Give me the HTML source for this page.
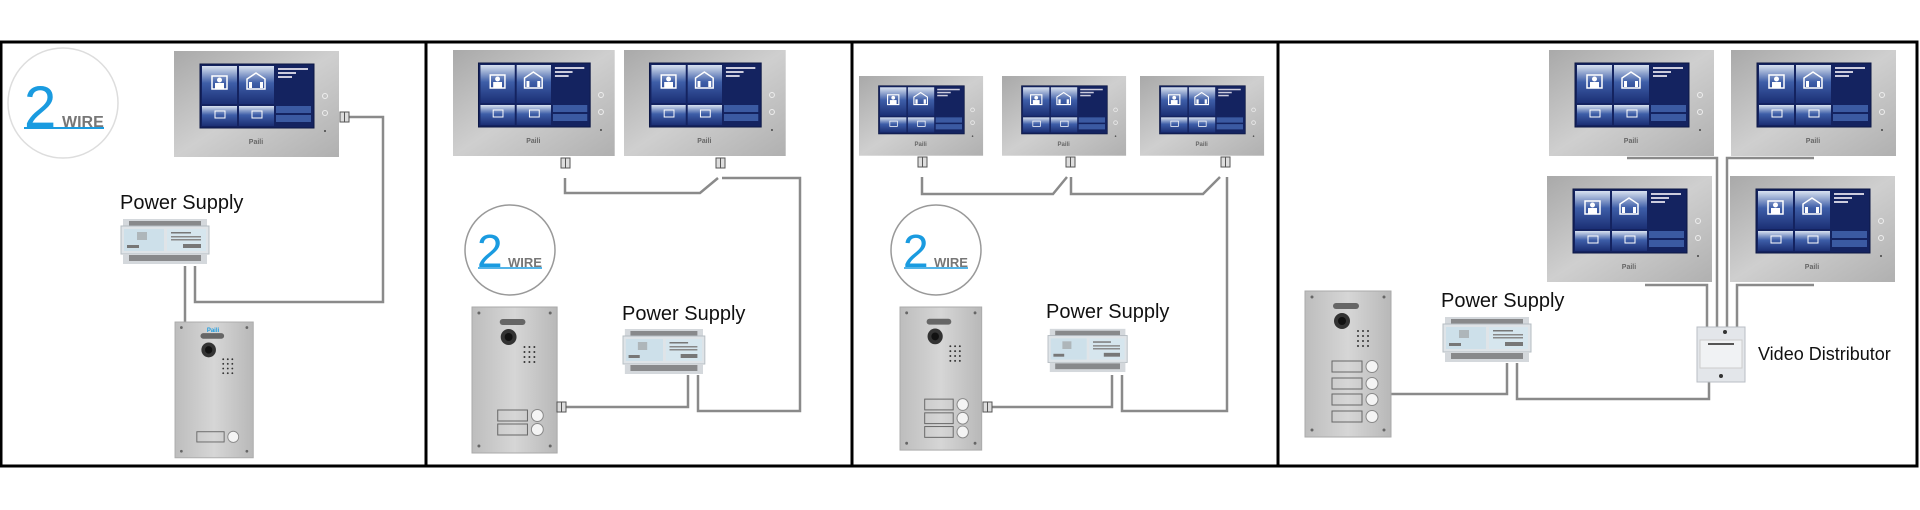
<!DOCTYPE html>
<html><head><meta charset="utf-8"><style>
html,body{margin:0;padding:0;background:#fff;}
svg{display:block;}
text{font-family:"Liberation Sans",sans-serif;}
</style></head><body>
<svg width="1920" height="510" viewBox="0 0 1920 510" xmlns="http://www.w3.org/2000/svg">
<defs>
<linearGradient id="metal" x1="0" y1="0" x2="1" y2="1">
<stop offset="0" stop-color="#a9a9a9"/><stop offset="0.5" stop-color="#cfcfcf"/><stop offset="1" stop-color="#b0b0b0"/></linearGradient>
<linearGradient id="tile" x1="0" y1="0" x2="0" y2="1">
<stop offset="0" stop-color="#d9e2f0"/><stop offset="0.45" stop-color="#3e5ea8"/><stop offset="1" stop-color="#1b2f74"/></linearGradient>
<linearGradient id="plate" x1="0" y1="0" x2="1" y2="0">
<stop offset="0" stop-color="#bdbdbd"/><stop offset="0.5" stop-color="#d6d6d6"/><stop offset="1" stop-color="#b8b8b8"/></linearGradient>
<g id="mon">
<rect x="0" y="0" width="165" height="106" fill="url(#metal)"/>
<rect x="26" y="13" width="114" height="64" fill="#142360" stroke="#0c1744"/>
<rect x="28" y="15" width="35" height="38" fill="url(#tile)"/>
<rect x="65" y="15" width="35" height="38" fill="url(#tile)"/>
<rect x="28" y="55" width="35" height="20" fill="url(#tile)"/>
<rect x="65" y="55" width="35" height="20" fill="url(#tile)"/>
<rect x="102" y="55" width="35" height="7" fill="#3b5aa2"/>
<rect x="102" y="64" width="35" height="7" fill="#3b5aa2"/>
<rect x="38" y="25" width="15" height="13" fill="none" stroke="#fff" stroke-width="1.5"/>
<circle cx="45.5" cy="29" r="2.5" fill="#fff"/><rect x="41" y="32" width="9" height="6" fill="#fff"/>
<path d="M73 38 V28 L82 22 L91 28 V38 Z" fill="none" stroke="#fff" stroke-width="1.5"/>
<rect x="75" y="31" width="3" height="6" fill="#fff"/><rect x="86" y="31" width="3" height="6" fill="#fff"/>
<rect x="41" y="60" width="10" height="7" fill="none" stroke="#fff"/>
<rect x="78" y="60" width="10" height="7" fill="none" stroke="#fff"/>
<rect x="104" y="17" width="30" height="2" fill="#ccd"/><rect x="104" y="21" width="18" height="2" fill="#ccd"/><rect x="104" y="25" width="14" height="2" fill="#ccd"/>
<circle cx="151" cy="45" r="2.5" fill="none" stroke="#eee"/>
<circle cx="151" cy="62" r="2.5" fill="none" stroke="#eee"/>
<circle cx="151" cy="80" r="1" fill="#444"/>
</g>
<g id="ps">
<rect x="2" y="4" width="84" height="8" fill="#d4d8dc"/>
<rect x="8" y="6" width="72" height="5" fill="#555" opacity="0.6"/>
<rect x="0" y="11" width="88" height="28" fill="#dfe4e8" stroke="#b5bcc2"/>
<rect x="3" y="14" width="40" height="22" fill="#cde0ea"/>
<rect x="46" y="14" width="39" height="22" fill="#d6e6ee"/>
<rect x="50" y="17" width="20" height="1.5" fill="#777"/><rect x="50" y="21" width="30" height="1.5" fill="#888"/><rect x="50" y="24" width="30" height="1.5" fill="#888"/>
<rect x="62" y="29" width="18" height="4" fill="#777"/>
<rect x="16" y="17" width="10" height="8" fill="#999" opacity="0.6"/><rect x="6" y="30" width="12" height="3" fill="#777"/>
<rect x="2" y="39" width="84" height="10" fill="#d4d8dc"/>
<rect x="8" y="40" width="72" height="6" fill="#555" opacity="0.6"/>
</g>
<g id="door">
<rect x="0" y="0" width="86" height="146" fill="url(#plate)" stroke="#aaa"/>
<rect x="28" y="12" width="26" height="6" rx="3" fill="#666"/>
<circle cx="37" cy="30" r="8" fill="#333"/><circle cx="37" cy="30" r="4" fill="#111"/>
<g fill="#333"><circle cx="53" cy="40" r="1"/><circle cx="58" cy="40" r="1"/><circle cx="63" cy="40" r="1"/><circle cx="53" cy="45" r="1"/><circle cx="58" cy="45" r="1"/><circle cx="63" cy="45" r="1"/><circle cx="53" cy="50" r="1"/><circle cx="58" cy="50" r="1"/><circle cx="63" cy="50" r="1"/><circle cx="53" cy="55" r="1"/><circle cx="58" cy="55" r="1"/><circle cx="63" cy="55" r="1"/></g>
<g fill="#666"><circle cx="7" cy="6" r="1.5"/><circle cx="79" cy="6" r="1.5"/><circle cx="7" cy="139" r="1.5"/><circle cx="79" cy="139" r="1.5"/></g>
</g>
<g id="btn"><rect x="0" y="0" width="30" height="11" fill="none" stroke="#666"/><circle cx="40" cy="5.5" r="6" fill="#f4f4f4" stroke="#888"/></g>
<g id="conn"><rect x="0" y="0" width="9" height="10" fill="#ddd" stroke="#555"/><line x1="4.5" y1="0" x2="4.5" y2="10" stroke="#555"/></g>
</defs>

<!-- frame -->
<rect x="1" y="42" width="1916" height="424" fill="none" stroke="#000" stroke-width="3"/>
<line x1="426" y1="42" x2="426" y2="466" stroke="#000" stroke-width="3"/>
<line x1="852" y1="42" x2="852" y2="466" stroke="#000" stroke-width="3"/>
<line x1="1278" y1="42" x2="1278" y2="466" stroke="#000" stroke-width="3"/>

<g fill="none" stroke="#8a8a8a" stroke-width="2.5">
<!-- panel1 wires -->
<polyline points="340,117 383,117 383,302 195,302 195,266"/>
<polyline points="185,266 185,322"/>
<!-- panel2 wires -->
<polyline points="565,178 565,193 700,193 718,178"/>
<polyline points="722,178 800,178 800,411 698,411 698,375"/>
<polyline points="558,407 688,407 688,375"/>
<!-- panel3 wires -->
<polyline points="922,177 922,194 1053,194 1067,177"/>
<polyline points="1071,177 1071,194 1203,194 1220,177"/>
<polyline points="1227,177 1227,411 1122,411 1122,375"/>
<polyline points="988,407 1112,407 1112,375"/>
<!-- panel4 wires -->
<polyline points="1391,394 1507,394 1507,363"/>
<polyline points="1517,363 1517,399 1709,399 1709,382"/>
<polyline points="1627,158 1717,158 1717,327"/>
<polyline points="1814,158 1727,158 1727,327"/>
<polyline points="1645,285 1707,285 1707,327"/>
<polyline points="1814,285 1737,285 1737,327"/>
</g>

<!-- panel 1 -->
<circle cx="63" cy="103" r="55" fill="none" stroke="#ddd" stroke-width="1.5"/>
<text x="24" y="127" font-size="58" fill="#1a9be0" font-weight="normal">2</text>
<text x="62" y="127" font-size="16" font-weight="bold" fill="#777">WIRE</text>
<line x1="24" y1="128" x2="104" y2="128" stroke="#1a9be0" stroke-width="2"/>
<g transform="translate(174,51)"><use href="#mon"/><text x="82" y="93" font-size="7" font-family="Liberation Serif" font-weight="bold" text-anchor="middle" fill="#666">Paili</text></g>
<use href="#conn" x="340" y="112"/>
<text x="120" y="209" font-size="20" fill="#111">Power Supply</text>
<use href="#ps" transform="translate(121,215)"/>
<g transform="translate(175,322) scale(0.91,0.93)"><use href="#door"/><use href="#btn" x="24" y="118"/></g>
<text x="213" y="332" font-size="6" font-weight="bold" fill="#1a9be0" text-anchor="middle">Paili</text>

<!-- panel 2 -->
<g transform="translate(453,50) scale(0.98,1)"><use href="#mon"/><text x="82" y="93" font-size="7" font-family="Liberation Serif" font-weight="bold" text-anchor="middle" fill="#666">Paili</text></g>
<g transform="translate(624,50) scale(0.98,1)"><use href="#mon"/><text x="82" y="93" font-size="7" font-family="Liberation Serif" font-weight="bold" text-anchor="middle" fill="#666">Paili</text></g>
<use href="#conn" x="561" y="158"/><use href="#conn" x="716" y="158"/>
<circle cx="510" cy="250" r="45" fill="none" stroke="#999" stroke-width="1.5"/>
<text x="477" y="267" font-size="46" fill="#1a9be0">2</text>
<text x="508" y="267" font-size="13" font-weight="bold" fill="#777">WIRE</text>
<line x1="478" y1="268" x2="542" y2="268" stroke="#1a9be0" stroke-width="1.5"/>
<g transform="translate(472,307) scale(0.99,1)"><use href="#door"/><use href="#btn" x="26" y="103"/><use href="#btn" x="26" y="117"/></g>
<use href="#conn" x="557" y="402"/>
<text x="622" y="320" font-size="20" fill="#111">Power Supply</text>
<use href="#ps" transform="translate(623,325) scale(0.93,1)"/>

<!-- panel 3 -->
<g transform="translate(859,76) scale(0.752)"><use href="#mon"/><text x="82" y="93" font-size="8" font-family="Liberation Serif" font-weight="bold" text-anchor="middle" fill="#666">Paili</text></g>
<g transform="translate(1002,76) scale(0.752)"><use href="#mon"/><text x="82" y="93" font-size="8" font-family="Liberation Serif" font-weight="bold" text-anchor="middle" fill="#666">Paili</text></g>
<g transform="translate(1140,76) scale(0.752)"><use href="#mon"/><text x="82" y="93" font-size="8" font-family="Liberation Serif" font-weight="bold" text-anchor="middle" fill="#666">Paili</text></g>
<use href="#conn" x="918" y="157"/><use href="#conn" x="1066" y="157"/><use href="#conn" x="1221" y="157"/>
<circle cx="936" cy="250" r="45" fill="none" stroke="#999" stroke-width="1.5"/>
<text x="903" y="267" font-size="46" fill="#1a9be0">2</text>
<text x="934" y="267" font-size="13" font-weight="bold" fill="#777">WIRE</text>
<line x1="904" y1="268" x2="968" y2="268" stroke="#1a9be0" stroke-width="1.5"/>
<g transform="translate(900,307) scale(0.95,0.98)"><use href="#door"/><use href="#btn" x="26" y="94"/><use href="#btn" x="26" y="108"/><use href="#btn" x="26" y="122"/></g>
<use href="#conn" x="983" y="402"/>
<text x="1046" y="318" font-size="20" fill="#111">Power Supply</text>
<use href="#ps" transform="translate(1048,325) scale(0.9,0.96)"/>

<!-- panel 4 -->
<g transform="translate(1549,50)"><use href="#mon"/><text x="82" y="93" font-size="7" font-family="Liberation Serif" font-weight="bold" text-anchor="middle" fill="#666">Paili</text></g>
<g transform="translate(1731,50)"><use href="#mon"/><text x="82" y="93" font-size="7" font-family="Liberation Serif" font-weight="bold" text-anchor="middle" fill="#666">Paili</text></g>
<g transform="translate(1547,176)"><use href="#mon"/><text x="82" y="93" font-size="7" font-family="Liberation Serif" font-weight="bold" text-anchor="middle" fill="#666">Paili</text></g>
<g transform="translate(1730,176)"><use href="#mon"/><text x="82" y="93" font-size="7" font-family="Liberation Serif" font-weight="bold" text-anchor="middle" fill="#666">Paili</text></g>
<g transform="translate(1305,291)"><use href="#door"/><use href="#btn" x="27" y="70"/><use href="#btn" x="27" y="87"/><use href="#btn" x="27" y="103"/><use href="#btn" x="27" y="120"/></g>
<text x="1441" y="307" font-size="20" fill="#111">Power Supply</text>
<use href="#ps" transform="translate(1443,313)"/>
<rect x="1697" y="327" width="48" height="55" fill="#e3e6ea" stroke="#b8bec4"/>
<rect x="1700" y="340" width="42" height="28" fill="#f0f2f4" stroke="#ccc"/>
<rect x="1708" y="343" width="26" height="2" fill="#555"/>
<circle cx="1721" cy="376" r="2" fill="#333"/><circle cx="1725" cy="332" r="2" fill="#333"/>
<text x="1758" y="360" font-size="18" fill="#111">Video Distributor</text>
</svg>
</body></html>
